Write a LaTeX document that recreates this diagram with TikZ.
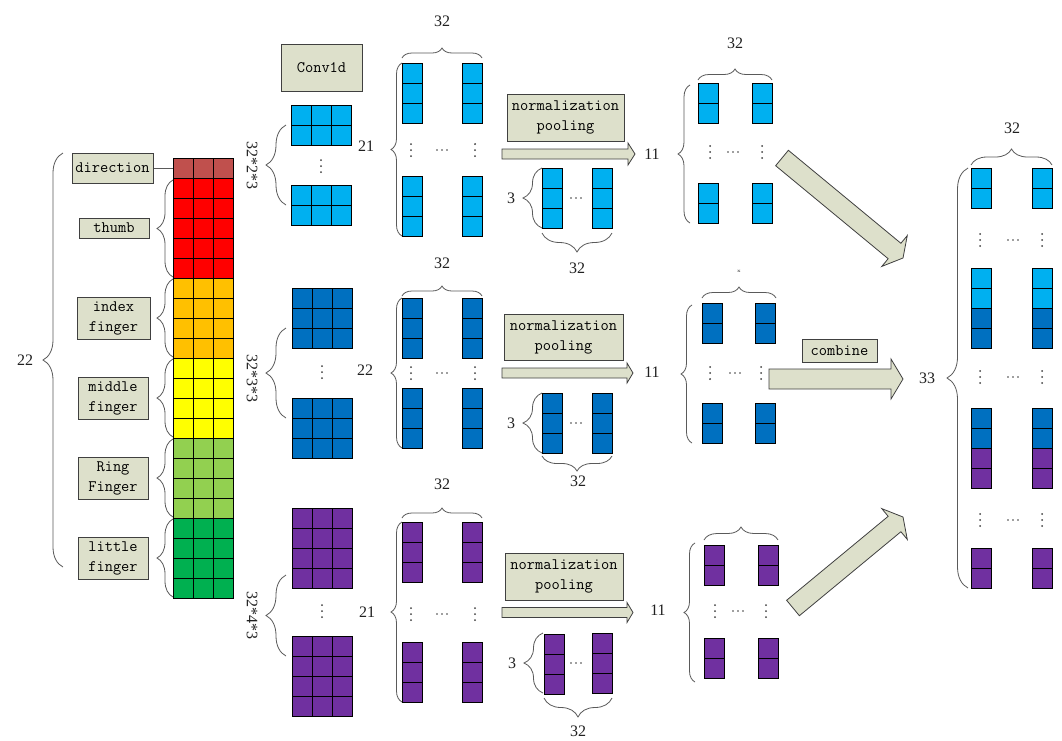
\documentclass[tikz,border=0pt]{standalone}
\usepackage{fontspec}
\newfontfamily\numfont{Liberation Serif}
\usetikzlibrary{decorations.pathreplacing,calc}
\definecolor{lblue}{HTML}{00B0F0}
\definecolor{dblue}{HTML}{0070C0}
\definecolor{purp}{HTML}{7030A0}
\definecolor{dirc}{HTML}{C0504D}
\definecolor{redc}{HTML}{FF0000}
\definecolor{orc}{HTML}{FFC000}
\definecolor{yelc}{HTML}{FFFF00}
\definecolor{lgrc}{HTML}{92D050}
\definecolor{grc}{HTML}{00B050}
\definecolor{boxfill}{HTML}{DDE0CB}
\definecolor{boxline}{HTML}{404040}
\definecolor{linegray}{HTML}{5A5A5A}
\definecolor{dotc}{HTML}{404040}
\definecolor{numc}{HTML}{202020}
\tikzset{
  cellline/.style={draw=black, line width=0.7pt},
  brc/.style={decorate, decoration={brace, amplitude=#1}, draw=linegray, line width=0.8pt},
  brc/.default=10,
  lbl/.style={draw=boxline, fill=boxfill, line width=1pt, font=\fontsize{16}{20}\selectfont\ttfamily, inner sep=0pt, align=center},
  num/.style={font=\fontsize{16}{16}\selectfont\numfont, text=numc, inner sep=0pt},
  barrow/.style={fill=boxfill, draw=boxline, line width=0.8pt, line join=miter},
}
\newcommand{\blk}[5]{%
  \foreach \ii in {1,...,#3}{\foreach \jj in {1,...,#4}{%
    \filldraw[fill=#5, cellline] ({#1+(\ii-1)*20},{#2+(\jj-1)*20}) rectangle ++(20,20);}}}
\newcommand{\vd}[2]{\foreach \kk in {-6,0,6}{\fill[dotc] (#1,{#2+\kk}) circle (1pt);}}
\newcommand{\hd}[2]{\foreach \kk in {-5,0,5}{\fill[dotc] ({#1+\kk},#2) circle (0.9pt);}}
\newcommand{\blockarrow}[5]{%
  \coordinate (hb) at ($(#2)!#5pt!(#1)$);
  \filldraw[barrow] ($(#1)!#3pt!90:(#2)$) -- ($(hb)!#3pt!-90:(#1)$) -- ($(hb)!#4pt!-90:(#1)$) -- (#2) -- ($(hb)!#4pt!90:(#1)$) -- ($(hb)!#3pt!90:(#1)$) -- ($(#1)!#3pt!-90:(#2)$) -- cycle;}
\begin{document}
\begin{tikzpicture}[x=1pt,y=-1pt]
\useasboundingbox (0,0) rectangle (1062,740);
\fill[white] (0,0) rectangle (1062,740);

% ---------- input strip ----------
\blk{173}{158}{3}{1}{dirc}
\blk{173}{178}{3}{5}{redc}
\blk{173}{278}{3}{4}{orc}
\blk{173}{358}{3}{4}{yelc}
\blk{173}{438}{3}{4}{lgrc}
\blk{173}{518}{3}{4}{grc}

\node[lbl, minimum width=81pt, minimum height=30pt] (dir) at (112.5,168) {direction};
\node[lbl, minimum width=70pt, minimum height=20pt] (thumb) at (114,228) {thumb};
\node[lbl, minimum width=73pt, minimum height=42pt] (index) at (113.5,318) {index\\finger};
\node[lbl, minimum width=70pt, minimum height=42pt] (middle) at (113,398) {middle\\finger};
\node[lbl, minimum width=70pt, minimum height=42pt] (ring) at (113,478) {Ring\\Finger};
\node[lbl, minimum width=70pt, minimum height=42pt] (little) at (113,558) {little\\finger};
\coordinate (stripdir) at (173,168);
\draw[linegray, line width=0.8pt] (dir.east) -- (stripdir);

\draw[brc=16] (173,277) -- (173,180);
\draw[brc=16] (173,357) -- (173,279);
\draw[brc=16] (173,437) -- (173,359);
\draw[brc=16] (173,517) -- (173,439);
\draw[brc=16] (173,597) -- (173,519);
\draw[brc=20] (63,567) -- (63,153);
\node[num] (n22a) at (25,360) {22};

% ---------- conv ----------
\node[lbl, minimum width=81pt, minimum height=47pt] (conv) at (321.5,67.5) {Conv1d};
\blk{291}{105}{3}{2}{lblue}
\blk{291}{185}{3}{2}{lblue}
\vd{321}{166}
\blk{292}{288}{3}{3}{dblue}
\blk{292}{398}{3}{3}{dblue}
\vd{322}{372}
\blk{292}{508}{3}{4}{purp}
\blk{292}{636}{3}{4}{purp}
\vd{322}{611}
\draw[brc=20] (286,205) -- (286,125);
\draw[brc=20] (286,418) -- (286,328);
\draw[brc=20] (286,656) -- (286,575);
\node[num, rotate=-90] (c1) at (252,165) {32*2*3};
\node[num, rotate=-90] (c2) at (252,378) {32*3*3};
\node[num, rotate=-90] (c3) at (252,615) {32*4*3};

% ---------- feature columns ----------
\blk{402}{63}{1}{3}{lblue} \blk{462}{63}{1}{3}{lblue}
\blk{402}{176}{1}{3}{lblue} \blk{462}{176}{1}{3}{lblue}
\blk{402}{298}{1}{3}{dblue} \blk{462}{298}{1}{3}{dblue}
\blk{402}{388}{1}{3}{dblue} \blk{462}{388}{1}{3}{dblue}
\blk{402}{522}{1}{3}{purp} \blk{462}{522}{1}{3}{purp}
\blk{402}{642}{1}{3}{purp} \blk{462}{642}{1}{3}{purp}
\vd{411}{150} \hd{442}{150} \vd{475}{150}
\vd{411}{373} \hd{442}{373} \vd{475}{373}
\vd{411}{614} \hd{442}{614} \vd{475}{614}
\draw[brc=11] (402,236) -- (402,63);
\draw[brc=11] (402,448) -- (402,298);
\draw[brc=11] (402,702) -- (402,522);
\draw[brc=10] (402,58) -- (482,58);
\draw[brc=10] (402,296) -- (482,296);
\draw[brc=10] (402,518) -- (482,518);
\node[num] (f1w) at (442,21) {32};
\node[num] (f2w) at (442,263) {32};
\node[num] (f3w) at (442,484) {32};
\node[num] (f1h) at (366,146) {21};
\node[num] (f2h) at (365,370) {22};
\node[num] (f3h) at (367,612) {21};

% ---------- normalization pooling ----------
\node[lbl, minimum width=117pt, minimum height=47pt] (norm1) at (565.5,117.5) {normalization\\pooling};
\node[lbl, minimum width=119pt, minimum height=46pt] (norm2) at (563.5,337) {normalization\\pooling};
\node[lbl, minimum width=118pt, minimum height=47pt] (norm3) at (564,576.5) {normalization\\pooling};
\coordinate (t1s) at (502,154); \coordinate (t1e) at (635,154);
\coordinate (t2s) at (502,373); \coordinate (t2e) at (633,373);
\coordinate (t3s) at (502,612.5); \coordinate (t3e) at (633,612.5);
\blockarrow{t1s}{t1e}{5}{11}{7}
\blockarrow{t2s}{t2e}{5}{10}{6}
\blockarrow{t3s}{t3e}{5}{10}{6}

\blk{542}{168}{1}{3}{lblue} \blk{592}{168}{1}{3}{lblue}
\blk{542}{393}{1}{3}{dblue} \blk{592}{393}{1}{3}{dblue}
\blk{544}{634}{1}{3}{purp} \blk{592}{633}{1}{3}{purp}
\hd{576}{198} \hd{576}{423} \hd{576}{663}
\draw[brc=19] (542,228) -- (542,168);
\draw[brc=19] (542,453) -- (542,393);
\draw[brc=19] (543,693) -- (543,633);
\draw[brc=19] (612,233) -- (542,233);
\draw[brc=15] (612,456) -- (542,456);
\draw[brc=19] (612,698) -- (544,698);
\node[num] (p1h) at (511,198) {3};
\node[num] (p2h) at (511,423) {3};
\node[num] (p3h) at (512,663) {3};
\node[num] (p1w) at (577,268) {32};
\node[num] (p2w) at (578,481) {32};
\node[num] (p3w) at (578,731) {32};

% ---------- pooled maps ----------
\blk{698}{83}{1}{2}{lblue} \blk{752}{83}{1}{2}{lblue}
\blk{698}{183}{1}{2}{lblue} \blk{752}{183}{1}{2}{lblue}
\blk{702}{303}{1}{2}{dblue} \blk{755}{303}{1}{2}{dblue}
\blk{702}{403}{1}{2}{dblue} \blk{755}{403}{1}{2}{dblue}
\blk{704}{545}{1}{2}{purp} \blk{758}{545}{1}{2}{purp}
\blk{704}{638}{1}{2}{purp} \blk{758}{638}{1}{2}{purp}
\vd{710}{152} \hd{733}{152} \vd{762}{152}
\vd{710}{373} \hd{735}{373} \vd{761}{373}
\vd{715}{611} \hd{738}{611} \vd{766}{611}
\draw[brc=12] (690,223) -- (690,85);
\draw[brc=11] (692,443) -- (692,305);
\draw[brc=11] (695,682) -- (695,543);
\draw[brc=11] (698,80) -- (772,80);
\draw[brc=11] (702,298) -- (776,298);
\draw[brc=13] (704,540) -- (778,540);
\node[num] (q1h) at (652,154) {11};
\node[num] (q2h) at (652,372) {11};
\node[num] (q3h) at (658,610) {11};
\node[num] (q1w) at (735,43) {32};
\node[font=\fontsize{5}{5}\selectfont, text=numc, inner sep=0pt] (q2w) at (739,271) {x};

% ---------- combine ----------
\coordinate (b1s) at (782,158); \coordinate (b1e) at (903,258);
\coordinate (b2s) at (769,379); \coordinate (b2e) at (903,379);
\coordinate (b3s) at (793,608); \coordinate (b3e) at (903,517);
\blockarrow{b1s}{b1e}{10}{20}{11}
\blockarrow{b2s}{b2e}{10}{20}{12}
\blockarrow{b3s}{b3e}{10}{20}{11}
\node[lbl, minimum width=75pt, minimum height=23pt] (comb) at (839.5,350.5) {combine};

% ---------- output ----------
\blk{971}{168}{1}{2}{lblue} \blk{1032}{168}{1}{2}{lblue}
\blk{971}{268}{1}{2}{lblue} \blk{1032}{268}{1}{2}{lblue}
\blk{971}{308}{1}{2}{dblue} \blk{1032}{308}{1}{2}{dblue}
\blk{971}{408}{1}{2}{dblue} \blk{1032}{408}{1}{2}{dblue}
\blk{971}{448}{1}{2}{purp} \blk{1032}{448}{1}{2}{purp}
\blk{971}{548}{1}{2}{purp} \blk{1032}{548}{1}{2}{purp}
\vd{980}{240} \hd{1013}{240} \vd{1042}{240}
\vd{980}{377} \hd{1013}{377} \vd{1042}{377}
\vd{980}{520} \hd{1013}{520} \vd{1042}{520}
\draw[brc=21] (968,588) -- (968,168);
\draw[brc=16] (971,165) -- (1052,165);
\node[num] (o1w) at (1012,128) {32};
\node[num] (o1h) at (927,378) {33};
\end{tikzpicture}
\end{document}
